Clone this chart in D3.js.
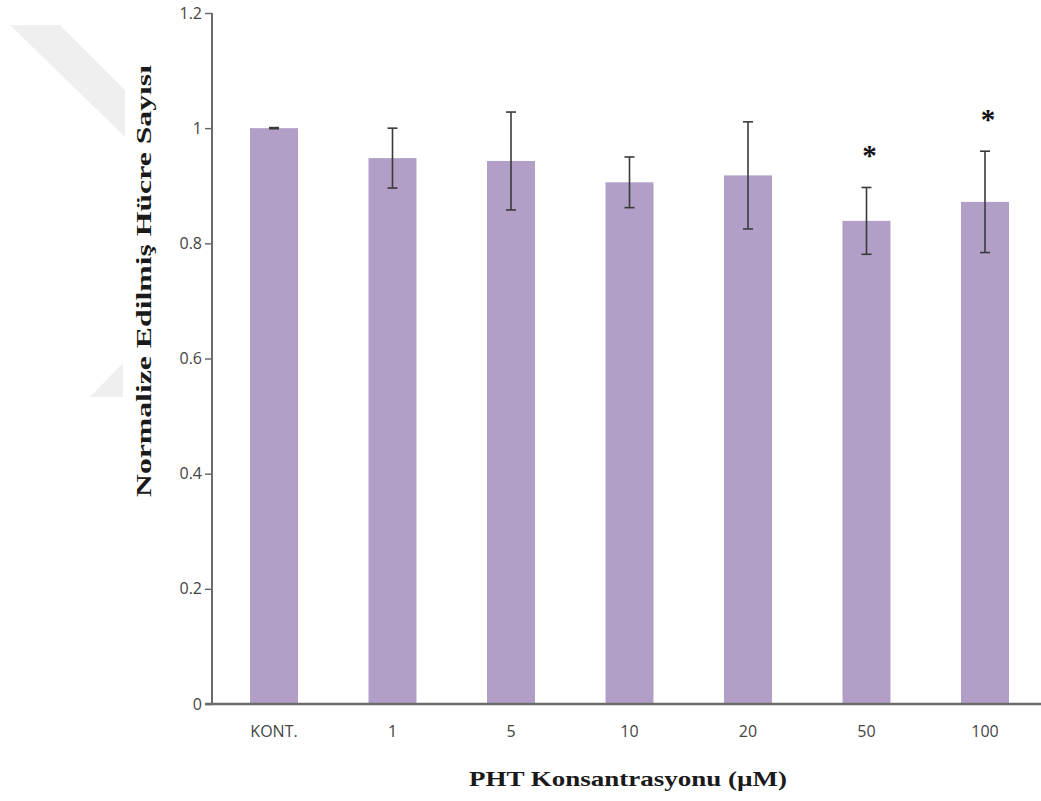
<!DOCTYPE html>
<html>
<head>
<meta charset="utf-8">
<script src="https://cdn.jsdelivr.net/npm/d3@7"></script>
<style>
  body { margin: 0; background: #fff; }
  svg { display: block; }
</style>
</head>
<body>
<div id="chart"></div>
<script>
// Data
const categories = ["KONT.", "1", "5", "10", "20", "50", "100"];
const means = [1.0, 0.948, 0.943, 0.906, 0.918, 0.839, 0.872];
const errors = [0.001, 0.052, 0.085, 0.044, 0.093, 0.058, 0.088];
const significant = [false, false, false, false, false, true, true];
const yTicks = [0, 0.2, 0.4, 0.6, 0.8, 1, 1.2];

const width = 1041, height = 801;
const axisX = 212;   // y-axis position
const plotTop = 13, plotBottom = 704;

const svg = d3.select("#chart")
    .append("svg")
    .attr("width", width)
    .attr("height", height);

// faint watermark shapes behind the y label
svg.append("path")
    .attr("d", "M10,25 L60,25 L125,90 L125,137 Z")
    .attr("fill", "#efefef");
svg.append("path")
    .attr("d", "M90,397 L123,363 L123,397 Z")
    .attr("fill", "#efefef");

// Scales
const xScale = d3.scaleBand()
    .domain(categories)
    .range([214.75, 1044.25])
    .paddingInner(0.595)
    .paddingOuter(0.2975);

const yScale = d3.scaleLinear()
    .domain([0, 1.2])
    .range([plotBottom, plotTop]);

// Bars
svg.append("g")
    .selectAll("rect")
    .data(means)
    .join("rect")
    .attr("x", (d, i) => xScale(categories[i]))
    .attr("y", d => yScale(d))
    .attr("width", xScale.bandwidth())
    .attr("height", d => yScale(0) - yScale(d))
    .attr("fill", "#b19fc7");

// Error bars
const errG = svg.append("g")
    .attr("stroke", "#3a3a3a")
    .attr("stroke-width", 1.6);

means.forEach((m, i) => {
    const cx = xScale(categories[i]) + xScale.bandwidth() / 2;
    const top = yScale(m + errors[i]);
    const bot = yScale(m - errors[i]);
    errG.append("line").attr("x1", cx).attr("x2", cx).attr("y1", top).attr("y2", bot);
    errG.append("line").attr("x1", cx - 5).attr("x2", cx + 5).attr("y1", top).attr("y2", top);
    errG.append("line").attr("x1", cx - 5).attr("x2", cx + 5).attr("y1", bot).attr("y2", bot);

    if (significant[i]) {
        svg.append("text")
            .attr("x", cx + 3)
            .attr("y", top - 22)
            .attr("text-anchor", "middle")
            .style("font-family", "'Liberation Serif', serif")
            .style("font-weight", "bold")
            .style("font-size", "29px")
            .attr("fill", "#111")
            .text("*");
    }
});

// Y axis
const yAxis = d3.axisLeft(yScale)
    .tickValues(yTicks)
    .tickSize(7)
    .tickPadding(3)
    .tickFormat(d => d3.format("")(d));

const yAxisGroup = svg.append("g")
    .attr("transform", `translate(${axisX},0)`)
    .call(yAxis);

yAxisGroup.select(".domain")
    .attr("d", `M0,${plotTop}V${plotBottom}`)
    .attr("stroke", "#6b6b6b")
    .attr("stroke-width", 2);
yAxisGroup.selectAll(".tick line")
    .attr("stroke", "#6b6b6b")
    .attr("stroke-width", 1.5);
yAxisGroup.selectAll(".tick text")
    .attr("fill", "#444")
    .style("font-family", "'Open Sans', 'DejaVu Sans', sans-serif")
    .style("font-size", "16px");

// X axis line
svg.append("line")
    .attr("x1", axisX - 7)
    .attr("x2", width)
    .attr("y1", plotBottom)
    .attr("y2", plotBottom)
    .attr("stroke", "#6b6b6b")
    .attr("stroke-width", 2.5);

// X tick labels
const xAxis = d3.axisBottom(xScale).tickSize(0).tickPadding(22);
const xAxisGroup = svg.append("g")
    .attr("transform", `translate(0,${plotBottom})`)
    .call(xAxis);
xAxisGroup.select(".domain").remove();
xAxisGroup.selectAll(".tick text")
    .attr("fill", "#444")
    .style("font-family", "'Open Sans', 'DejaVu Sans', sans-serif")
    .style("font-size", "16px");

// Axis titles
svg.append("text")
    .attr("transform", "rotate(-90)")
    .attr("x", -281)
    .attr("y", 151)
    .attr("text-anchor", "middle")
    .attr("textLength", 432)
    .attr("lengthAdjust", "spacingAndGlyphs")
    .style("font-family", "'Liberation Serif', 'DejaVu Serif', serif")
    .style("font-weight", "bold")
    .style("font-size", "22px")
    .attr("fill", "#1a1a1a")
    .text("Normalize Edilmiş Hücre Sayısı");

svg.append("text")
    .attr("x", 628)
    .attr("y", 786)
    .attr("text-anchor", "middle")
    .attr("textLength", 318)
    .attr("lengthAdjust", "spacingAndGlyphs")
    .style("font-family", "'Liberation Serif', 'DejaVu Serif', serif")
    .style("font-weight", "bold")
    .style("font-size", "22px")
    .attr("fill", "#1a1a1a")
    .text("PHT Konsantrasyonu (µM)");
</script>
</body>
</html>
